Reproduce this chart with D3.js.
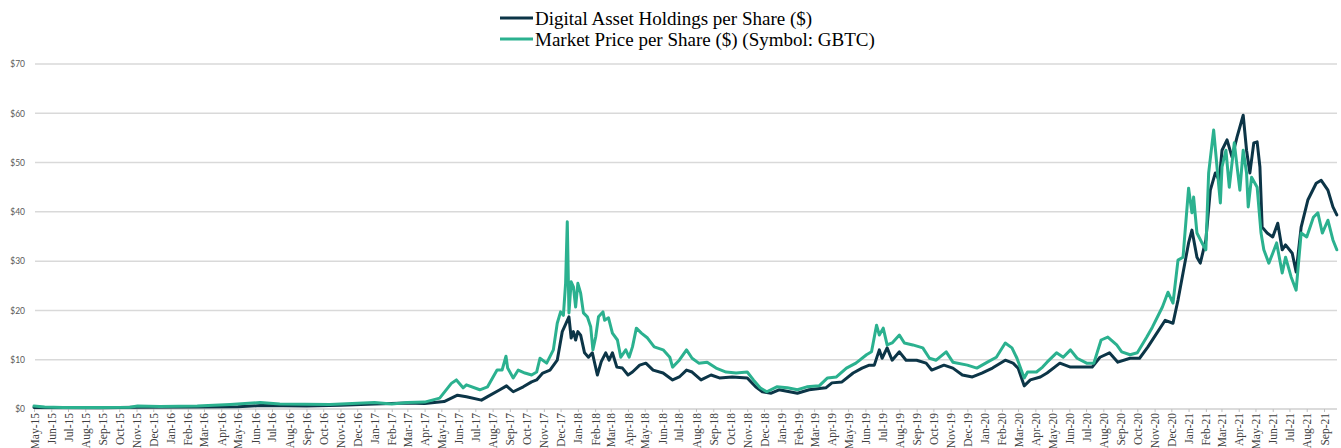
<!DOCTYPE html>
<html>
<head>
<meta charset="utf-8">
<script src="https://cdn.jsdelivr.net/npm/d3@7/dist/d3.min.js"></script>
<style>
    body { margin: 0; background: #ffffff; }
    svg { display: block; }
</style>
</head>
<body>
<div id="chart"></div>
<script>
// series names for the legend
var seriesNames = ["Digital Asset Holdings per Share ($)", "Market Price per Share ($) (Symbol: GBTC)"];

// y axis ticks
var yTicks = [0, 10, 20, 30, 40, 50, 60, 70];

// Digital Asset Holdings per Share
var holdingsDates = ["2015-05-01","2015-08-27","2015-11-03","2016-02-18","2016-05-01","2016-06-10","2016-09-01","2016-11-01",
    "2017-01-01","2017-03-01","2017-04-01","2017-05-06","2017-05-30","2017-06-15","2017-07-12","2017-07-23","2017-08-14",
    "2017-08-26","2017-09-07","2017-09-25","2017-10-10","2017-10-19","2017-10-30","2017-11-12","2017-11-25","2017-12-04",
    "2017-12-16","2017-12-20","2017-12-24","2017-12-28","2018-01-01","2018-01-06","2018-01-13","2018-01-20","2018-01-27",
    "2018-02-05","2018-02-12","2018-02-20","2018-02-26","2018-03-04","2018-03-12","2018-03-22","2018-04-01","2018-04-09",
    "2018-04-22","2018-05-03","2018-05-16","2018-06-03","2018-06-20","2018-07-02","2018-07-15","2018-07-25","2018-08-10",
    "2018-08-28","2018-09-12","2018-10-05","2018-11-01","2018-11-16","2018-11-28","2018-12-14","2018-12-28","2019-01-30",
    "2019-02-20","2019-03-22","2019-04-02","2019-04-20","2019-05-10","2019-05-26","2019-06-08","2019-06-17","2019-06-26",
    "2019-07-01","2019-07-10","2019-07-19","2019-08-01","2019-08-13","2019-09-01","2019-09-18","2019-09-28","2019-10-20",
    "2019-11-05","2019-11-22","2019-12-10","2019-12-27","2020-01-15","2020-02-07","2020-02-21","2020-03-01","2020-03-12",
    "2020-03-23","2020-04-10","2020-04-22","2020-05-15","2020-06-03","2020-06-26","2020-07-12","2020-07-26","2020-08-12",
    "2020-08-27","2020-09-18","2020-10-05","2020-10-20","2020-11-05","2020-11-20","2020-12-04","2020-12-13","2020-12-22",
    "2021-01-01","2021-01-07","2021-01-16","2021-01-22","2021-02-01","2021-02-09","2021-02-18","2021-02-25","2021-03-02",
    "2021-03-11","2021-03-20","2021-03-29","2021-04-09","2021-04-15","2021-04-21","2021-04-28","2021-05-04","2021-05-09",
    "2021-05-13","2021-05-22","2021-06-01","2021-06-10","2021-06-18","2021-06-24","2021-07-06","2021-07-13","2021-07-22",
    "2021-08-03","2021-08-18","2021-08-27","2021-09-08","2021-09-17","2021-09-24"];
var holdingsValues = [0.3,0.25,0.35,0.4,0.45,0.7,0.6,0.75,
    1.0,1.2,1.1,1.5,2.8,2.5,1.8,2.5,3.9,
    4.7,3.5,4.5,5.5,5.9,7.3,7.9,9.9,15.7,
    18.7,14.4,15.7,14,15.7,15,11.4,10.5,11.4,
    6.9,9.6,11.4,9.9,11.4,8.5,8.3,6.9,7.5,
    8.9,9.3,7.9,7.3,5.9,6.5,7.9,7.5,5.9,
    6.9,6.3,6.5,6.3,4.5,3.5,3.2,3.9,3.2,
    3.9,4.3,5.3,5.5,7.3,8.3,8.9,8.9,12,
    10.3,12.4,9.9,11.6,9.9,9.9,9.3,7.9,8.9,
    8.3,6.9,6.5,7.3,8.3,9.9,9.3,8.3,4.7,
    5.9,6.5,7.3,9.3,8.5,8.5,8.5,10.5,11.4,
    9.5,10.3,10.3,12.6,15.4,18,17.4,22.1,27.6,
    33.7,36.3,30.8,29.6,34.3,44.4,47.9,46.4,52.5,
    54.6,51.1,55.2,59.6,52.5,47.9,54,54.2,49.1,
    36.9,35.7,34.9,37.7,32.3,33.3,31.6,27.8,36.9,
    42.4,45.8,46.4,44.4,41,39.4];

// Market Price per Share (GBTC)
var priceDates = ["2015-05-01","2015-05-20","2015-06-22","2015-08-27","2015-10-20","2015-11-03","2015-12-13","2016-02-18",
    "2016-04-17","2016-06-10","2016-07-15","2016-10-13","2017-01-01","2017-02-01","2017-03-01","2017-04-01","2017-04-28",
    "2017-05-19","2017-05-28","2017-06-09","2017-06-15","2017-07-09","2017-07-23","2017-08-09","2017-08-18","2017-08-25",
    "2017-08-28","2017-09-07","2017-09-16","2017-09-28","2017-10-10","2017-10-19","2017-10-25","2017-11-06","2017-11-18",
    "2017-11-25","2017-12-01","2017-12-06","2017-12-10","2017-12-13","2017-12-16","2017-12-20","2017-12-24","2017-12-28",
    "2018-01-01","2018-01-06","2018-01-11","2018-01-18","2018-01-24","2018-01-28","2018-02-02","2018-02-07","2018-02-15",
    "2018-02-18","2018-02-25","2018-03-04","2018-03-13","2018-03-19","2018-03-28","2018-04-03","2018-04-09","2018-04-16",
    "2018-04-25","2018-05-06","2018-05-18","2018-06-03","2018-06-15","2018-06-20","2018-07-02","2018-07-15","2018-07-25",
    "2018-08-06","2018-08-21","2018-09-06","2018-09-24","2018-10-12","2018-11-01","2018-11-12","2018-11-24","2018-12-06",
    "2018-12-24","2019-01-12","2019-01-30","2019-02-16","2019-03-10","2019-03-25","2019-04-10","2019-04-28","2019-05-15",
    "2019-06-03","2019-06-12","2019-06-21","2019-06-26","2019-07-03","2019-07-10","2019-07-19","2019-08-01","2019-08-10",
    "2019-08-25","2019-09-12","2019-09-24","2019-10-06","2019-10-24","2019-11-05","2019-12-01","2019-12-18","2020-01-06",
    "2020-01-22","2020-02-07","2020-02-19","2020-02-28","2020-03-12","2020-03-18","2020-04-03","2020-04-14","2020-04-22",
    "2020-05-09","2020-05-21","2020-06-03","2020-06-15","2020-07-02","2020-07-15","2020-07-28","2020-08-09","2020-08-25",
    "2020-09-03","2020-09-18","2020-10-01","2020-10-18","2020-10-28","2020-11-15","2020-11-25","2020-12-04","2020-12-13",
    "2020-12-22","2021-01-01","2021-01-07","2021-01-10","2021-01-16","2021-01-25","2021-02-01","2021-02-06","2021-02-15",
    "2021-02-21","2021-02-27","2021-03-02","2021-03-09","2021-03-15","2021-03-24","2021-04-03","2021-04-09","2021-04-15",
    "2021-04-18","2021-04-24","2021-05-04","2021-05-11","2021-05-16","2021-05-25","2021-06-01","2021-06-08","2021-06-18",
    "2021-06-24","2021-07-04","2021-07-13","2021-07-22","2021-08-01","2021-08-13","2021-08-21","2021-08-29","2021-09-08",
    "2021-09-17","2021-09-24"];
var priceValues = [0.6,0.4,0.3,0.3,0.35,0.6,0.5,0.6,
    0.9,1.3,1.0,0.9,1.3,1.0,1.3,1.4,2.2,
    5.2,5.9,4.3,4.9,3.9,4.5,7.9,7.9,10.7,
    8.3,6.3,7.9,7.3,6.9,7.5,10.3,9.3,12,
    17.4,19.7,19,25.5,38,19.5,25.8,24.8,20.7,
    25.5,23.5,19.5,18.7,16.7,12,14.6,18.7,19.7,
    18,18.5,15.4,14,10.5,12,10.5,12.6,16.4,
    15.4,14.4,12.6,12,10.5,8.5,9.9,12,10.3,
    9.3,9.5,8.3,7.5,7.3,7.5,5.9,4.3,3.5,
    4.5,4.3,3.9,4.5,4.7,6.3,6.5,8.3,9.3,
    11,11.6,17,15,16.4,13,13.4,15,13.4,
    13,12.4,10.3,9.9,11.6,9.5,8.9,8.3,9.5,
    10.5,13.4,12.4,10.3,6.3,7.5,7.5,8.5,9.5,
    11.4,10.5,12,10.3,9.3,9.3,14,14.6,13,
    11.6,11,11.4,14.6,16.6,20.7,23.7,21.5,30.2,
    30.8,44.8,39.8,43,35.7,33.7,32.3,47.9,56.6,
    49.1,41.8,49.1,52.5,45,54,44.4,52.5,47.9,
    41,47,45,35.7,32.3,29.6,31.6,33.7,27.6,
    30.8,26.8,24.1,35.7,34.9,38.9,39.8,35.7,38.3,
    34.3,32.3];

var colors = ["#0c3547", "#2bb18f"];

var parseDate = d3.timeParse("%Y-%m-%d");

// build the series objects from the arrays
var series = [
    {name: seriesNames[0], color: colors[0], values: holdingsDates.map(function(d, i) { return {date: parseDate(d), value: holdingsValues[i]}; })},
    {name: seriesNames[1], color: colors[1], values: priceDates.map(function(d, i) { return {date: parseDate(d), value: priceValues[i]}; })}
];

var width = 1341, height = 448;
var plot = {left: 35, right: 1337, top: 64, bottom: 409};

var svg = d3.select("#chart").append("svg")
    .attr("width", width)
    .attr("height", height);

// scales: month ticks land about 17px apart
var x = d3.scaleTime()
    .domain([parseDate("2015-05-01"), parseDate("2021-09-01")])
    .range([34, 1324]);

var y = d3.scaleLinear()
    .domain([0, 70])
    .range([plot.bottom, plot.top]);

// gridlines
svg.append("g")
    .attr("class", "grid")
    .selectAll("line")
    .data(yTicks)
    .enter().append("line")
    .attr("x1", plot.left)
    .attr("x2", plot.right)
    .attr("y1", function(d) { return y(d); })
    .attr("y2", function(d) { return y(d); })
    .attr("stroke", "#d9d9d9")
    .attr("stroke-width", 1.5);

// y axis labels
var yAxis = d3.axisLeft(y)
    .tickValues(yTicks)
    .tickSize(0)
    .tickPadding(0)
    .tickFormat(function(d) { return "$" + d; });

svg.append("g")
    .attr("class", "y_axis")
    .attr("transform", "translate(25,0)")
    .call(yAxis)
    .call(function(g) { g.select(".domain").remove(); })
    .selectAll("text")
    .attr("fill", "#595959")
    .style("font-family", "Lato, 'DejaVu Sans', sans-serif")
    .style("font-size", "8.5px");

// x axis with monthly ticks, rotated labels
var xAxis = d3.axisBottom(x)
    .ticks(d3.timeMonth.every(1))
    .tickSize(3)
    .tickFormat(d3.timeFormat("%b-%y"));

var xg = svg.append("g")
    .attr("class", "x_axis")
    .attr("transform", "translate(0," + plot.bottom + ")")
    .call(xAxis);

xg.select(".domain")
    .attr("d", "M" + plot.left + ",0H" + plot.right)
    .attr("stroke", "#d9d9d9")
    .attr("stroke-width", 1.5);

xg.selectAll(".tick line").attr("stroke", "#bfbfbf");

xg.selectAll("text")
    .attr("transform", "rotate(-90)")
    .attr("x", -4)
    .attr("y", 0)
    .attr("dy", "0.35em")
    .attr("fill", "#404040")
    .style("text-anchor", "end")
    .style("font-family", "'Liberation Serif', 'Times New Roman', serif")
    .style("font-size", "11.5px");

// the lines
var line = d3.line()
    .x(function(d) { return x(d.date); })
    .y(function(d) { return y(d.value); });

svg.selectAll(".series")
    .data(series)
    .enter().append("path")
    .attr("class", "series")
    .attr("d", function(d) { return line(d.values); })
    .attr("fill", "none")
    .attr("stroke", function(d) { return d.color; })
    .attr("stroke-width", 3)
    .attr("stroke-linejoin", "round")
    .attr("stroke-linecap", "round");

// legend
var legend = svg.selectAll(".legend")
    .data(series)
    .enter().append("g")
    .attr("class", "legend")
    .attr("transform", function(d, i) { return "translate(500," + (18 + i * 21) + ")"; });

legend.append("line")
    .attr("x1", 0)
    .attr("x2", 33)
    .attr("stroke", function(d) { return d.color; })
    .attr("stroke-width", 3);

legend.append("text")
    .attr("x", 35)
    .attr("dy", "0.35em")
    .attr("fill", "#000")
    .style("font-family", "'Liberation Serif', 'Times New Roman', serif")
    .style("font-size", "19px")
    .text(function(d) { return d.name; });
</script>
</body>
</html>
